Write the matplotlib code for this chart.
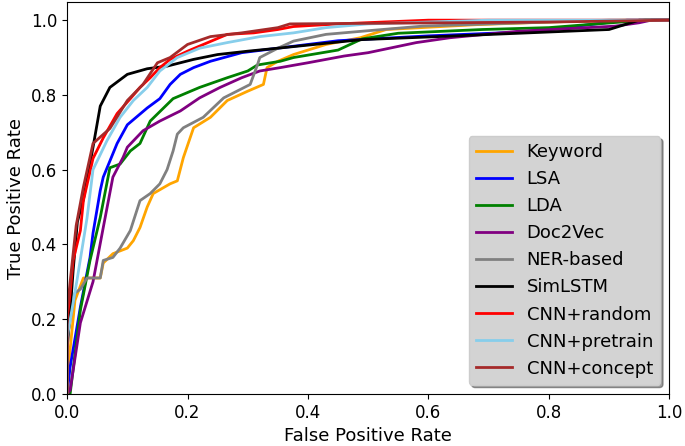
import matplotlib.pyplot as plt

# ROC points (FPR, TPR)
keyword_fpr = [0, 0, 0.005, 0.013, 0.027, 0.055, 0.06, 0.076, 0.1, 0.11, 0.121, 0.133, 0.143, 0.171, 0.183, 0.193, 0.21, 0.238, 0.266, 0.3, 0.326, 0.332, 0.35, 0.376, 0.43, 0.487, 0.53, 0.68, 0.8, 0.93, 1.0]
keyword_tpr = [0, 0.05, 0.12, 0.25, 0.31, 0.31, 0.35, 0.375, 0.39, 0.41, 0.445, 0.5, 0.536, 0.562, 0.57, 0.632, 0.712, 0.74, 0.785, 0.81, 0.828, 0.873, 0.89, 0.908, 0.935, 0.953, 0.975, 0.988, 0.995, 1.0, 1.0]

lsa_fpr = [0, 0.005, 0.022, 0.038, 0.043, 0.055, 0.06, 0.083, 0.1, 0.133, 0.154, 0.171, 0.188, 0.21, 0.238, 0.29, 0.35, 0.45, 0.6, 0.75, 0.8, 0.93, 1.0]
lsa_tpr = [0, 0.072, 0.232, 0.365, 0.43, 0.544, 0.58, 0.67, 0.72, 0.765, 0.79, 0.828, 0.855, 0.873, 0.89, 0.913, 0.925, 0.945, 0.958, 0.968, 0.975, 1.0, 1.0]

lda_fpr = [0, 0.005, 0.022, 0.038, 0.055, 0.071, 0.088, 0.105, 0.121, 0.138, 0.176, 0.22, 0.266, 0.3, 0.316, 0.354, 0.376, 0.45, 0.49, 0.55, 0.69, 0.8, 0.96, 1.0]
lda_tpr = [0, 0.0, 0.224, 0.357, 0.472, 0.605, 0.615, 0.65, 0.67, 0.73, 0.79, 0.82, 0.846, 0.864, 0.88, 0.89, 0.9, 0.92, 0.95, 0.965, 0.975, 0.98, 1.0, 1.0]

doc2vec_fpr = [0, 0.005, 0.022, 0.043, 0.06, 0.076, 0.093, 0.1, 0.126, 0.154, 0.188, 0.22, 0.254, 0.29, 0.32, 0.354, 0.4, 0.46, 0.5, 0.58, 0.636, 0.747, 0.91, 0.95, 0.97, 1.0]
doc2vec_tpr = [0, 0.01, 0.19, 0.3, 0.445, 0.58, 0.633, 0.66, 0.704, 0.73, 0.757, 0.792, 0.82, 0.846, 0.864, 0.873, 0.886, 0.904, 0.913, 0.94, 0.953, 0.97, 0.984, 0.993, 1.0, 1.0]

ner_fpr = [0, 0, 0.013, 0.022, 0.033, 0.055, 0.06, 0.076, 0.088, 0.105, 0.121, 0.138, 0.154, 0.166, 0.176, 0.183, 0.193, 0.226, 0.26, 0.282, 0.304, 0.316, 0.32, 0.35, 0.376, 0.43, 0.487, 0.59, 0.7, 0.9, 1.0]
ner_tpr = [0, 0.15, 0.27, 0.28, 0.31, 0.31, 0.357, 0.365, 0.39, 0.437, 0.517, 0.536, 0.562, 0.6, 0.65, 0.695, 0.712, 0.74, 0.792, 0.81, 0.828, 0.88, 0.9, 0.925, 0.944, 0.962, 0.97, 0.984, 0.99, 1.0, 1.0]

simlstm_fpr = [0, 0, 0.005, 0.01, 0.017, 0.027, 0.043, 0.055, 0.071, 0.1, 0.133, 0.166, 0.21, 0.25, 0.3, 0.35, 0.49, 0.6, 0.75, 0.9, 0.93, 0.95, 1.0]
simlstm_tpr = [0, 0.12, 0.22, 0.33, 0.46, 0.52, 0.66, 0.77, 0.82, 0.855, 0.87, 0.877, 0.895, 0.908, 0.917, 0.925, 0.948, 0.955, 0.965, 0.975, 0.99, 1.0, 1.0]

cnn_random_fpr = [0, 0, 0.005, 0.01, 0.022, 0.027, 0.043, 0.06, 0.083, 0.105, 0.121, 0.138, 0.154, 0.171, 0.2, 0.238, 0.266, 0.31, 0.35, 0.376, 0.45, 0.6, 1.0]
cnn_random_tpr = [0, 0.2, 0.27, 0.357, 0.437, 0.517, 0.63, 0.685, 0.75, 0.79, 0.82, 0.846, 0.873, 0.895, 0.917, 0.943, 0.962, 0.966, 0.975, 0.983, 0.99, 1.0, 1.0]

cnn_pretrain_fpr = [0, 0, 0.017, 0.033, 0.043, 0.066, 0.088, 0.11, 0.133, 0.154, 0.183, 0.22, 0.266, 0.32, 0.376, 0.43, 0.5, 0.7, 1.0]
cnn_pretrain_tpr = [0, 0.15, 0.31, 0.47, 0.6, 0.677, 0.74, 0.785, 0.82, 0.864, 0.9, 0.925, 0.94, 0.956, 0.966, 0.98, 0.99, 1.0, 1.0]

cnn_concept_fpr = [0, 0, 0.005, 0.015, 0.027, 0.043, 0.071, 0.1, 0.126, 0.15, 0.171, 0.2, 0.238, 0.29, 0.35, 0.37, 0.8, 1.0]
cnn_concept_tpr = [0, 0.22, 0.3, 0.45, 0.553, 0.67, 0.71, 0.785, 0.828, 0.886, 0.9, 0.935, 0.956, 0.966, 0.98, 0.99, 0.995, 1.0]

series = [
    ("Keyword", keyword_fpr, keyword_tpr, "orange"),
    ("LSA", lsa_fpr, lsa_tpr, "blue"),
    ("LDA", lda_fpr, lda_tpr, "green"),
    ("Doc2Vec", doc2vec_fpr, doc2vec_tpr, "purple"),
    ("NER-based", ner_fpr, ner_tpr, "gray"),
    ("SimLSTM", simlstm_fpr, simlstm_tpr, "black"),
    ("CNN+random", cnn_random_fpr, cnn_random_tpr, "red"),
    ("CNN+pretrain", cnn_pretrain_fpr, cnn_pretrain_tpr, "skyblue"),
    ("CNN+concept", cnn_concept_fpr, cnn_concept_tpr, "brown"),
]

fig, ax = plt.subplots(figsize=(6.85, 4.46), dpi=100)
fig.subplots_adjust(left=0.098, right=0.977, bottom=0.117, top=0.995)

for name, fpr, tpr, color in series:
    ax.plot(fpr, tpr, color=color, lw=2, label=name)

ax.set_xlim(0, 1)
ax.set_ylim(0, 1.048)
ax.set_xticks([0, 0.2, 0.4, 0.6, 0.8, 1.0])
ax.set_yticks([0, 0.2, 0.4, 0.6, 0.8, 1.0])
ax.tick_params(labelsize=12)
ax.set_xlabel("False Positive Rate", fontsize=13)
ax.set_ylabel("True Positive Rate", fontsize=13)

leg = ax.legend(loc="lower right", fontsize=13, shadow=True, facecolor="lightgray",
                framealpha=1, fancybox=True)

fig.savefig("out.png")
